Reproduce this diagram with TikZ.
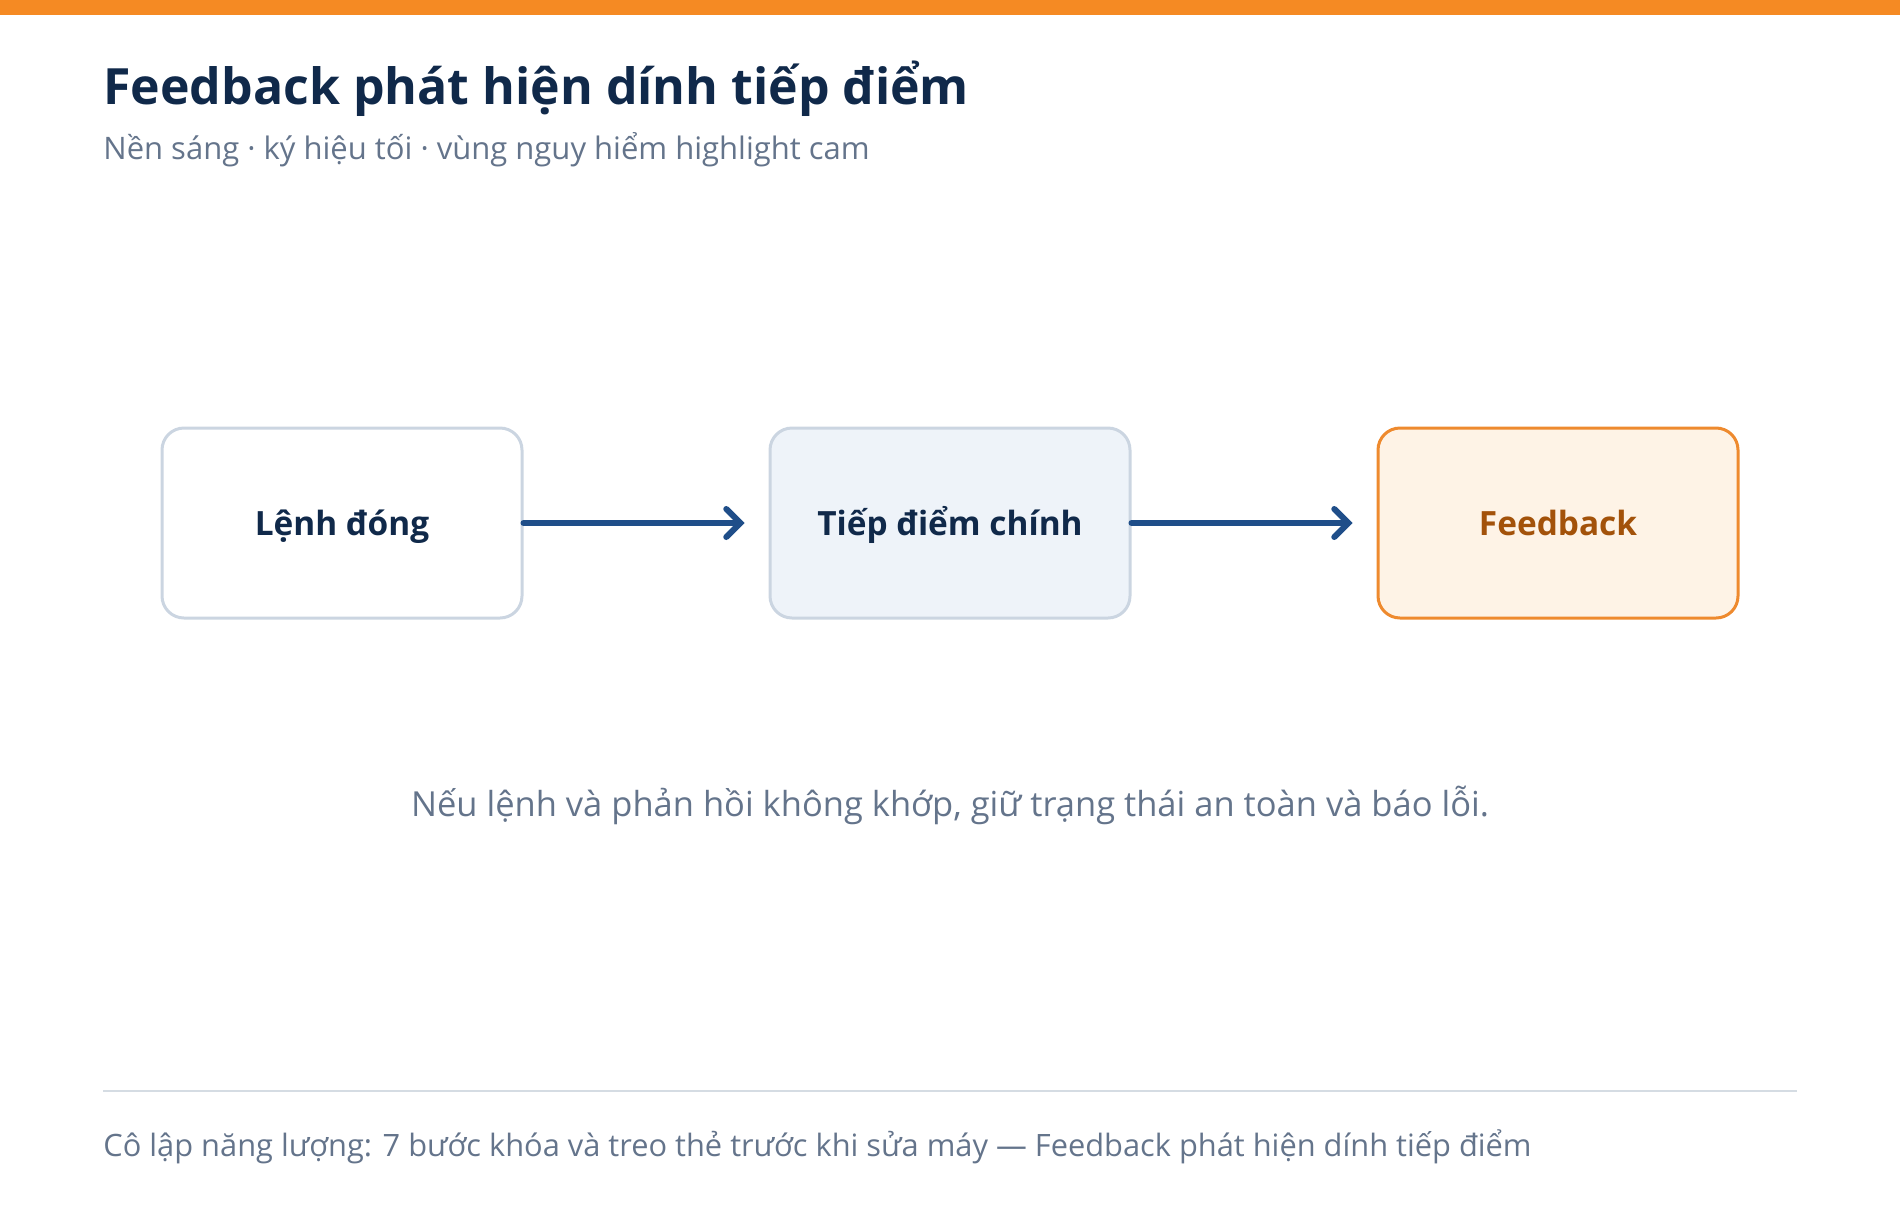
\documentclass[tikz,border=0pt]{standalone}
\usepackage{fontspec}
\setmainfont{Open Sans}
\usepackage{tikz}
\usetikzlibrary{arrows.meta}
\definecolor{barorange}{HTML}{F58A23}
\definecolor{titlenavy}{HTML}{10294A}
\definecolor{textgray}{HTML}{64748B}
\definecolor{boxgray}{HTML}{CBD5E1}
\definecolor{boxblue}{HTML}{EEF3F9}
\definecolor{boxcream}{HTML}{FEF3E6}
\definecolor{boxorange}{HTML}{EE8A2E}
\definecolor{textbrown}{HTML}{A3520A}
\definecolor{arrowblue}{HTML}{1F4E89}
\definecolor{rulegray}{HTML}{D5DCE3}

\begin{document}
\begin{tikzpicture}[x=0.5pt,y=-0.5pt,
    stepbox/.style={draw=boxgray, line width=1.5pt, rounded corners=11pt,
        minimum width=180pt, minimum height=95pt, inner sep=0pt,
        text height=12.6pt, text depth=0pt,
        font=\bfseries\fontsize{16.7}{19}\selectfont, text=titlenavy},
    flow/.style={-{Straight Barb[length=7pt,width=14pt,line cap=round]}, line width=3pt,
        line cap=round, arrowblue, shorten >=12pt}]
        \useasboundingbox (0,0) rectangle (1900,1216);
        \fill[barorange] (0,0) rectangle (1900,15);
        \node[anchor=base west, inner sep=0pt, text=titlenavy, font=\bfseries\fontsize{25}{30}\selectfont] (title) at (103,104) {Feedback phát hiện dính tiếp điểm};
        \node[anchor=base west, inner sep=0pt, text=textgray, font=\fontsize{15.5}{18}\selectfont] (subtitle) at (103,159) {Nền sáng · ký hiệu tối · vùng nguy hiểm highlight cam};

        \node[stepbox, fill=white] (lenh) at (342,523) {Lệnh đóng};
        \node[stepbox, fill=boxblue] (tiepdiem) at (950,523) {Tiếp điểm chính};
        \node[stepbox, fill=boxcream, draw=boxorange, text=textbrown] (feedback) at (1558,523) {Feedback};
        \draw[flow] (lenh.east) -- (tiepdiem.west);
        \draw[flow] (tiepdiem.east) -- (feedback.west);

        \node[anchor=base, inner sep=0pt, text=textgray, font=\fontsize{17.25}{20}\selectfont] (note) at (950,816) {Nếu lệnh và phản hồi không khớp, giữ trạng thái an toàn và báo lỗi.};
        \coordinate (ruleL) at (103,1091);
        \coordinate (ruleR) at (1797,1091);
        \draw[rulegray, line width=1pt] (ruleL) -- (ruleR);
        \node[anchor=base west, inner sep=0pt, text=textgray, font=\fontsize{15.4}{18}\selectfont] (footer) at (103,1156) {Cô lập năng lượng: 7 bước khóa và treo thẻ trước khi sửa máy — Feedback phát hiện dính tiếp điểm};
    \end{tikzpicture}
\end{document}
